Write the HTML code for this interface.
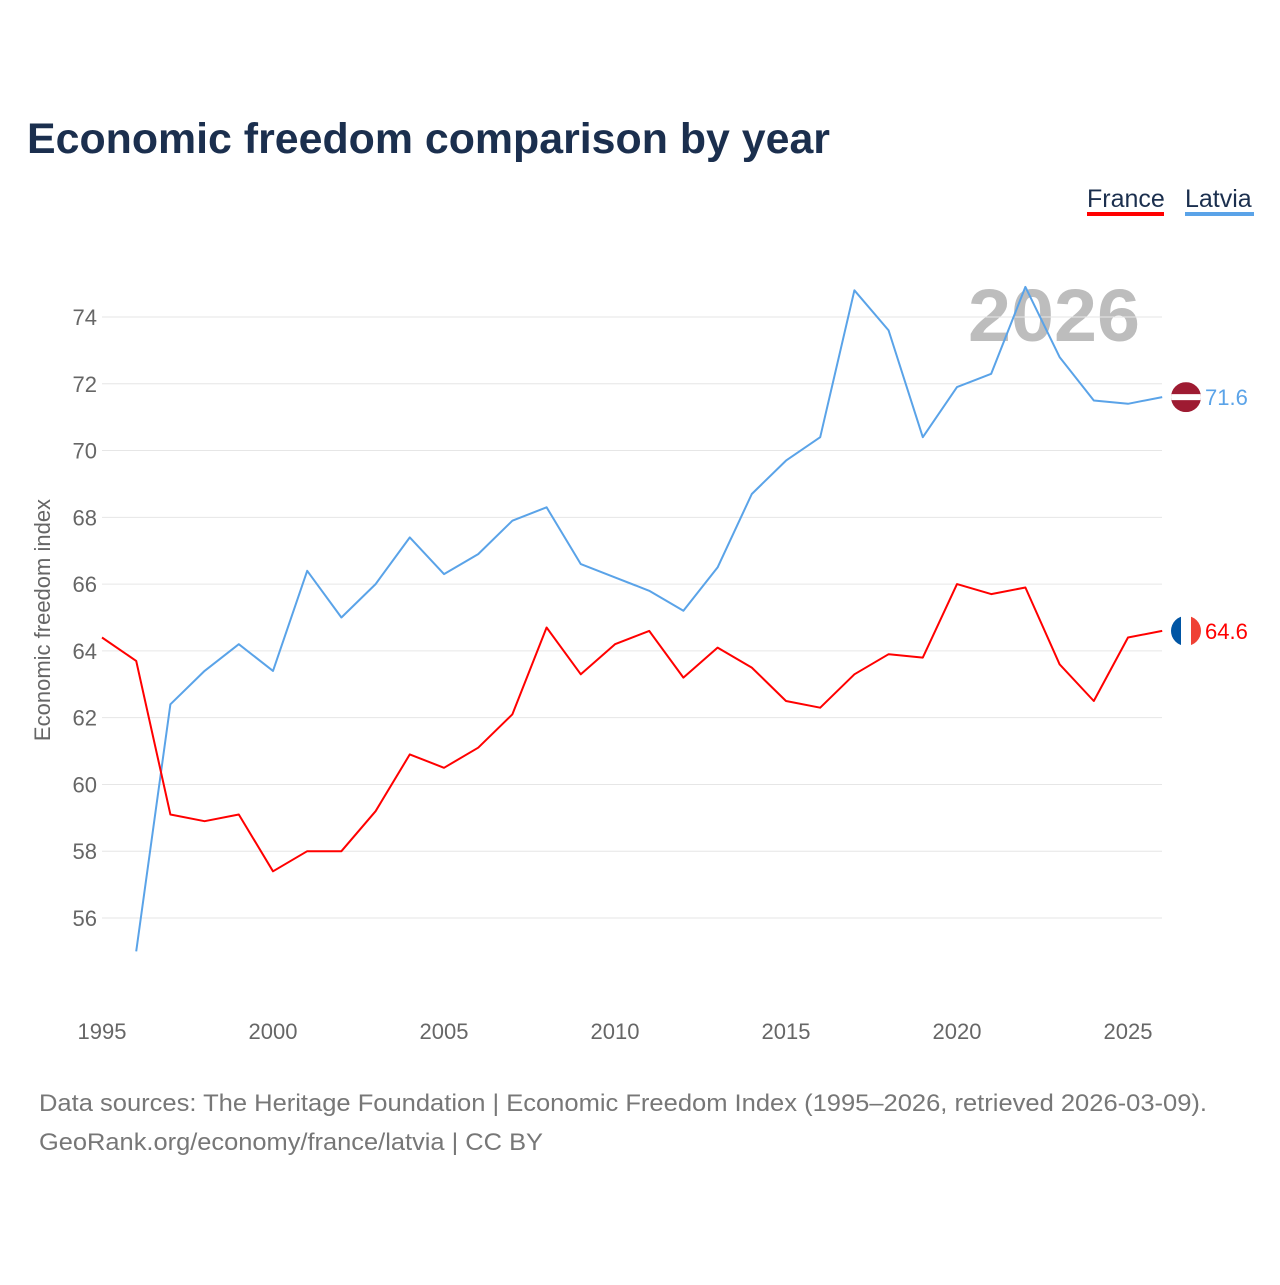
<!DOCTYPE html>
<html><head><meta charset="utf-8">
<style>
body{margin:0;background:#fff;width:1280px;height:1280px;overflow:hidden;font-family:"Liberation Sans",sans-serif;}
</style></head>
<body>
<svg id="chart" width="1280" height="1280" xmlns="http://www.w3.org/2000/svg" font-family="Liberation Sans, sans-serif">
<text x="27" y="153" font-size="43" font-weight="bold" fill="#1b2f4e" textLength="803" lengthAdjust="spacingAndGlyphs">Economic freedom comparison by year</text>
<g>
<text x="1087" y="207" font-size="25" fill="#1b2f4e">France</text>
<rect x="1087" y="212" width="77" height="4" fill="#ff0000"/>
<text x="1185" y="207" font-size="25" fill="#1b2f4e">Latvia</text>
<rect x="1185" y="212" width="69" height="4" fill="#5aa3e8"/>
</g>
<text x="968" y="341" font-size="74" font-weight="bold" fill="#bdbdbd" textLength="172" lengthAdjust="spacingAndGlyphs">2026</text>
<g id="grid"></g><g id="yticks"></g><g id="xticks"></g>
<text transform="translate(50,620) rotate(-90)" text-anchor="middle" font-size="22" fill="#666">Economic freedom index</text>
<g id="lines"></g>
<g id="ends"></g>
<text x="39" y="1111" font-size="24" fill="#777" textLength="1168" lengthAdjust="spacingAndGlyphs">Data sources: The Heritage Foundation | Economic Freedom Index (1995–2026, retrieved 2026-03-09).</text>
<text x="39" y="1150" font-size="24" fill="#777" textLength="504" lengthAdjust="spacingAndGlyphs">GeoRank.org/economy/france/latvia | CC BY</text>
</svg>
<script>
const years=[1995,1996,1997,1998,1999,2000,2001,2002,2003,2004,2005,2006,2007,2008,2009,2010,2011,2012,2013,2014,2015,2016,2017,2018,2019,2020,2021,2022,2023,2024,2025,2026];
const france=[64.4,63.7,59.1,58.9,59.1,57.4,58.0,58.0,59.2,60.9,60.5,61.1,62.1,64.7,63.3,64.2,64.6,63.2,64.1,63.5,62.5,62.3,63.3,63.9,63.8,66.0,65.7,65.9,63.6,62.5,64.4,64.6];
const latvia=[null,55.0,62.4,63.4,64.2,63.4,66.4,65.0,66.0,67.4,66.3,66.9,67.9,68.3,66.6,66.2,65.8,65.2,66.5,68.7,69.7,70.4,74.8,73.6,70.4,71.9,72.3,74.9,72.8,71.5,71.4,71.6];
const yTicks=[56,58,60,62,64,66,68,70,72,74];
const xTicks=[1995,2000,2005,2010,2015,2020,2025];
const NS="http://www.w3.org/2000/svg";
const X=y=>102+(y-1995)*34.2;
const Y=v=>317+(74-v)*33.39;
function mk(t,a,p){const e=document.createElementNS(NS,t);for(const k in a)e.setAttribute(k,a[k]);p.appendChild(e);return e;}
const grid=document.getElementById('grid'),yt=document.getElementById('yticks'),xt=document.getElementById('xticks');
yTicks.forEach(v=>{
 const l=mk('line',{x1:102,x2:1162,y1:Y(v),y2:Y(v),stroke:'#e6e6e6','stroke-width':1},grid);
 
 
 const t=mk('text',{x:97,y:Y(v)+8,'text-anchor':'end','font-size':22,fill:'#666'},yt);
 t.textContent=v;
 
 
});
xTicks.forEach(v=>{
 const t=mk('text',{x:X(v),y:1039,'text-anchor':'middle','font-size':22,fill:'#666'},xt);
 t.textContent=v;
 
 
});
const lines=document.getElementById('lines');
function draw(arr,color,name){
 let d='';arr.forEach((v,i)=>{if(v==null)return;d+=(d?'L':'M')+X(years[i]).toFixed(1)+','+Y(v).toFixed(1);});
 const p=mk('path',{d:d,fill:'none',stroke:color,'stroke-width':2,'stroke-linejoin':'round'},lines);
 
 
}
draw(latvia,'#5aa3e8','latvia-line');
draw(france,'#ff0000','france-line');
const ends=document.getElementById('ends');
const defs=mk('defs',{},ends);
const lv=latvia[latvia.length-1],fr=france[france.length-1];
const cl=mk('clipPath',{id:'cLv'},defs);mk('circle',{cx:1186,cy:Y(lv),r:15},cl);
const cf=mk('clipPath',{id:'cFr'},defs);mk('circle',{cx:1186,cy:Y(fr),r:15},cf);
const gL=mk('g',{'clip-path':'url(#cLv)'},ends);


mk('rect',{x:1171,y:Y(lv)-15,width:30,height:30,fill:'#9e1b32'},gL);
mk('rect',{x:1171,y:Y(lv)-3,width:30,height:6,fill:'#fff'},gL);
const gF=mk('g',{'clip-path':'url(#cFr)'},ends);


mk('rect',{x:1171,y:Y(fr)-15,width:10,height:30,fill:'#0055a4'},gF);
mk('rect',{x:1181,y:Y(fr)-15,width:10,height:30,fill:'#fff'},gF);
mk('rect',{x:1191,y:Y(fr)-15,width:10,height:30,fill:'#ef4135'},gF);
const tl=mk('text',{x:1205,y:Y(lv)+8,'font-size':22,fill:'#5aa3e8'},ends);tl.textContent=lv.toFixed(1);


const tf=mk('text',{x:1205,y:Y(fr)+8,'font-size':22,fill:'#ff0000'},ends);tf.textContent=fr.toFixed(1);


</script>
</body></html>
